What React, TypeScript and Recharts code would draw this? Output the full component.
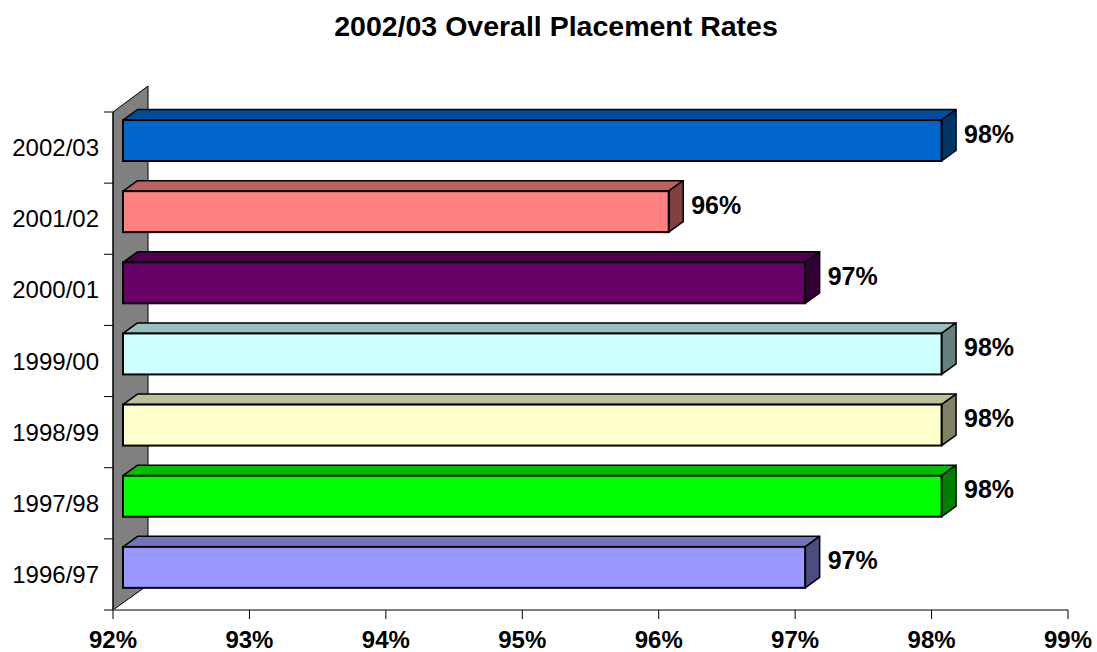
import { BarChart, Bar, XAxis, YAxis, LabelList } from 'recharts'

const years = ['2002/03', '2001/02', '2000/01', '1999/00', '1998/99', '1997/98', '1996/97']
const rates = [98, 96, 97, 98, 98, 98, 97]
const xTicks = [92, 93, 94, 95, 96, 97, 98, 99]

const frontColors = ['#0066CC', '#FF8080', '#660066', '#CCFFFF', '#FFFFCC', '#00FF00', '#9999FF']
const topColors = ['#004C99', '#BF6060', '#4C004C', '#99BFBF', '#BFBF99', '#00BF00', '#7373BF']
const sideColors = ['#003366', '#804040', '#330033', '#668080', '#808066', '#008000', '#4C4C80']

const data = years.map((year, i) => ({ year, rate: rates[i] }))

const W = 1097
const H = 652
const PLOT_LEFT = 113
const PLOT_TOP = 112
const PLOT_RIGHT = 1068
const PLOT_BOTTOM = 610
const WALL_DX = 35
const WALL_DY = -25
const SHIFT_X = 10
const SHIFT_Y = -7
const DEPTH_X = 14.5
const DEPTH_Y = -10.5
const FONT = "'Liberation Sans', Arial, sans-serif"
const HALF_BAND = (PLOT_BOTTOM - PLOT_TOP) / years.length / 2

function Box3D(props: any) {
  const { x, y, width, height, index } = props
  const fx = x + SHIFT_X
  const fy = y + SHIFT_Y
  const r = fx + width
  const b = fy + height
  const top = `${fx},${fy} ${fx + DEPTH_X},${fy + DEPTH_Y} ${r + DEPTH_X},${fy + DEPTH_Y} ${r},${fy}`
  const side = `${r},${fy} ${r + DEPTH_X},${fy + DEPTH_Y} ${r + DEPTH_X},${b + DEPTH_Y} ${r},${b}`
  return (
    <g>
      <polygon points={top} fill={topColors[index]} stroke="#000" strokeWidth={1.5} strokeLinejoin="round" />
      <polygon points={side} fill={sideColors[index]} stroke="#000" strokeWidth={1.5} strokeLinejoin="round" />
      <rect x={fx} y={fy} width={width} height={height} fill={frontColors[index]} stroke="#000" strokeWidth={2} />
    </g>
  )
}

function RateLabel(props: any) {
  const { x, y, width, height, value } = props
  return (
    <text
      x={x + width + SHIFT_X + DEPTH_X + 8}
      y={y + height / 2 + SHIFT_Y - 7}
      dy="0.36em"
      fontFamily={FONT}
      fontSize={25}
      fontWeight="bold"
      fill="#000"
    >
      {`${Math.round(value)}%`}
    </text>
  )
}

function YearTick(props: any) {
  const { y, payload, index } = props
  const last = index === years.length - 1
  return (
    <g>
      <line x1={PLOT_LEFT - 9} x2={PLOT_LEFT} y1={y - HALF_BAND} y2={y - HALF_BAND} stroke="#000" />
      {last && (
        <line x1={PLOT_LEFT - 9} x2={PLOT_LEFT} y1={y + HALF_BAND} y2={y + HALF_BAND} stroke="#000" />
      )}
      <text x={PLOT_LEFT - 14} y={y} dy="0.36em" textAnchor="end" fontFamily={FONT} fontSize={24} fill="#000">
        {payload.value}
      </text>
    </g>
  )
}

export default function App() {
  const wall = `${PLOT_LEFT},${PLOT_TOP} ${PLOT_LEFT + WALL_DX},${PLOT_TOP + WALL_DY - 1} ${PLOT_LEFT + WALL_DX},${PLOT_BOTTOM + WALL_DY} ${PLOT_LEFT},${PLOT_BOTTOM}`
  return (
    <div style={{ position: 'absolute', left: 0, top: 0, width: W, height: H, background: '#fff' }}>
      <BarChart
        width={W}
        height={H}
        data={data}
        layout="vertical"
        margin={{ top: PLOT_TOP, right: W - PLOT_RIGHT, left: 0, bottom: 0 }}
        barSize={41}
      >
        <text x={556} y={36} textAnchor="middle" fontFamily={FONT} fontSize={28.5} fontWeight="bold" fill="#000">
          2002/03 Overall Placement Rates
        </text>
        <polygon points={wall} fill="#808080" stroke="#000" strokeWidth={1} />
        <XAxis
          type="number"
          domain={[92, 99]}
          ticks={xTicks}
          tickFormatter={(v: number) => `${v}%`}
          height={H - PLOT_BOTTOM}
          axisLine={{ stroke: '#808080', strokeWidth: 2 }}
          tickLine={{ stroke: '#000' }}
          tickSize={9}
          tickMargin={12}
          tick={{ fontSize: 24, fontWeight: 'bold', fill: '#000', fontFamily: FONT }}
          allowDataOverflow
        />
        <YAxis
          type="category"
          dataKey="year"
          width={PLOT_LEFT}
          axisLine={{ stroke: '#000' }}
          tickLine={false}
          tick={<YearTick />}
          interval={0}
        />
        <Bar dataKey="rate" shape={<Box3D />} isAnimationActive={false}>
          <LabelList dataKey="rate" content={<RateLabel />} />
        </Bar>
      </BarChart>
    </div>
  )
}
